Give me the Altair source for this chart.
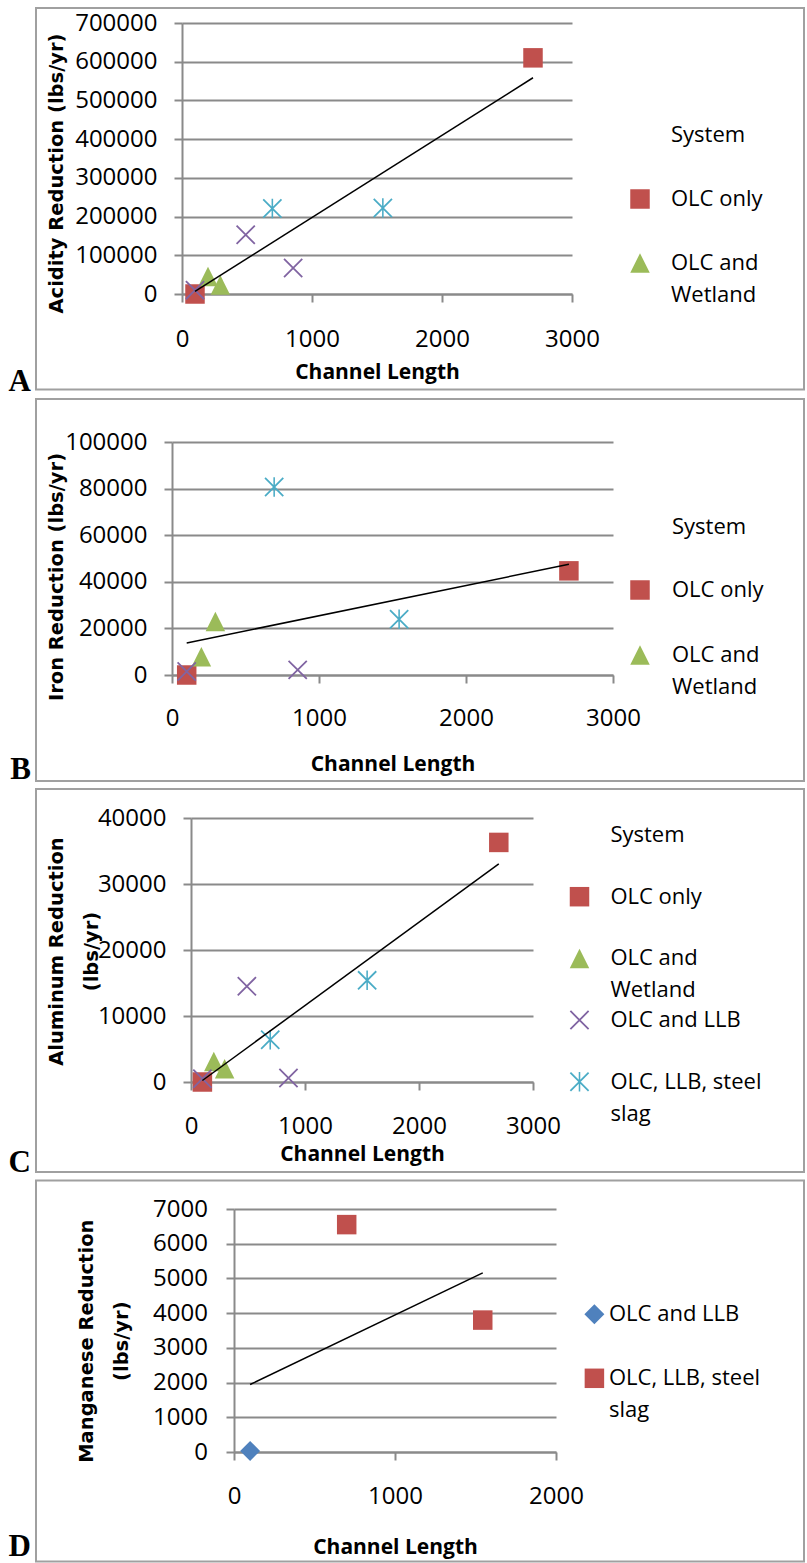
import altair as alt
import pandas as pd

# ---------------- data ----------------
SYSTEMS = ["OLC only", "OLC and Wetland", "OLC and LLB", "OLC, LLB, steel slag"]
SYSTEM_COLORS = ["#C0504D", "#9BBB59", "#8064A2", "#4BACC6"]
D_SYSTEMS = ["OLC and LLB", "OLC, LLB, steel slag"]
D_COLORS = ["#4F81BD", "#C0504D"]

# A: Acidity
acid_olc_x = [100, 2700]
acid_olc_y = [0, 610000]
acid_wet_x = [200, 295]
acid_wet_y = [45000, 23000]
acid_llb_x = [100, 490, 855]
acid_llb_y = [10000, 153000, 67000]
acid_slag_x = [695, 1545]
acid_slag_y = [221000, 222000]

# B: Iron
iron_olc_x = [100, 2700]
iron_olc_y = [0, 44700]
iron_wet_x = [200, 295]
iron_wet_y = [7800, 23000]
iron_llb_x = [100, 855]
iron_llb_y = [1500, 2200]
iron_slag_x = [695, 1545]
iron_slag_y = [80700, 23900]

# C: Aluminum
alum_olc_x = [100, 2700]
alum_olc_y = [0, 36300]
alum_wet_x = [200, 295]
alum_wet_y = [3100, 2000]
alum_llb_x = [100, 490, 855]
alum_llb_y = [500, 14500, 600]
alum_slag_x = [695, 1545]
alum_slag_y = [6400, 15400]

# D: Manganese
mang_llb_x = [100]
mang_llb_y = [30]
mang_slag_x = [700, 1545]
mang_slag_y = [6550, 3800]

X_TICKS_3000 = [0, 1000, 2000, 3000]
X_TICKS_2000 = [0, 1000, 2000]
ACID_TICKS = [0, 100000, 200000, 300000, 400000, 500000, 600000, 700000]
IRON_TICKS = [0, 20000, 40000, 60000, 80000, 100000]
ALUM_TICKS = [0, 10000, 20000, 30000, 40000]
MANG_TICKS = [0, 1000, 2000, 3000, 4000, 5000, 6000, 7000]

PANEL_LETTERS = ["A", "B", "C", "D"]
X_TITLE = "Channel Length"
LEGEND_TITLE = "System"
Y_TITLES = [
    "Acidity Reduction (lbs/yr)",
    "Iron Reduction (lbs/yr)",
    ["Aluminum Reduction", "(lbs/yr)"],
    ["Manganese Reduction", "(lbs/yr)"],
]


def frame(names, xs_list, ys_list):
    rows = []
    for name, xs, ys in zip(names, xs_list, ys_list):
        for x, y in zip(xs, ys):
            rows.append({"System": name, "length": x, "value": y})
    return pd.DataFrame(rows)


df_a = frame(SYSTEMS, [acid_olc_x, acid_wet_x, acid_llb_x, acid_slag_x],
             [acid_olc_y, acid_wet_y, acid_llb_y, acid_slag_y])
df_b = frame(SYSTEMS, [iron_olc_x, iron_wet_x, iron_llb_x, iron_slag_x],
             [iron_olc_y, iron_wet_y, iron_llb_y, iron_slag_y])
df_c = frame(SYSTEMS, [alum_olc_x, alum_wet_x, alum_llb_x, alum_slag_x],
             [alum_olc_y, alum_wet_y, alum_llb_y, alum_slag_y])
df_d = frame(D_SYSTEMS, [mang_llb_x, mang_slag_x], [mang_llb_y, mang_slag_y])

# ---------------- styles ----------------
GRID = "#8a8a8a"
BORDER = "#a0a0a0"
FONT = "Open Sans"
TICK_FS = 24
TRIANGLE = "M0,-1L1,1L-1,1Z"
XMARK = "M-1,-0.87L-0.87,-1L1,0.87L0.87,1Z M0.87,-1L1,-0.87L-0.87,1L-1,0.87Z"
STAR = XMARK + " M-0.08,-1L0.08,-1L0.08,1L-0.08,1Z"
SHAPES4 = ["square", TRIANGLE, XMARK, STAR]
SIZES4 = [380, 380, 324, 400]
SHAPES_D = ["diamond", "square"]
SIZES_D = [400, 380]

LABEL_EXPR = ("datum.label == 'OLC and Wetland' ? ['OLC and', 'Wetland'] : "
              "datum.label == 'OLC, LLB, steel slag' ? ['OLC, LLB, steel', 'slag'] : "
              "[datum.label, '']")

LEGEND_COMMON = dict(
    orient="none", title=None, labelFont=FONT, labelFontSize=22, labelColor="black",
    labelExpr=LABEL_EXPR, labelLimit=400, symbolSize=324, symbolOffset=0,
    symbolStrokeWidth=0, padding=0,
)

one = pd.DataFrame({"k": [0]})


def panel(df, domain, colors, shapes, sizes, g, legend_kw):
    px, py, w, h = g["px"], g["py"], g["w"], g["h"]
    xs = alt.Scale(domain=g["xdom"], nice=False, zero=True)
    ys = alt.Scale(domain=g["ydom"], nice=False, zero=True)
    legend = alt.Legend(**LEGEND_COMMON, **legend_kw)

    region = alt.Chart(one).mark_rect(opacity=0).encode(
        x=alt.value(1 - px), x2=alt.value(807 - px),
        y=alt.value(g["rtop"] - py), y2=alt.value(g["rbot"] - py))
    border = alt.Chart(one).mark_rect(fillOpacity=0, stroke=BORDER, strokeWidth=2).encode(
        x=alt.value(36 - px), x2=alt.value(804 - px),
        y=alt.value(g["btop"] - py), y2=alt.value(g["bbot"] - py))
    letter = alt.Chart(one).mark_text(
        align="right", baseline="alphabetic", font="Liberation Serif",
        fontSize=31, fontWeight="bold", color="black").encode(
        x=alt.value(31 - px), y=alt.value(g["lbase"] - py), text=alt.value(g["letter"]))

    xaxis = alt.Axis(
        values=g["xticks"], format="d", labelFlush=False, labelOverlap=False, grid=False,
        tickSize=8, tickColor=GRID, tickWidth=2, domainColor=GRID, domainWidth=2,
        labelFont=FONT, labelFontSize=TICK_FS, labelColor="black", labelPadding=g["xlabpad"],
        title=X_TITLE, titleFont=FONT, titleFontSize=21, titleFontWeight="bold",
        titleColor="black", titleX=w / 2, titleY=g["xty"], titleBaseline="top",
        titleAlign="center")
    yaxis = alt.Axis(
        values=g["yticks"], format="d", labelFlush=False, labelOverlap=False, grid=True,
        gridColor=GRID, gridWidth=2, tickSize=8, tickColor=GRID, tickWidth=2,
        domainColor=GRID, domainWidth=2, labelFont=FONT, labelFontSize=TICK_FS,
        labelColor="black", labelPadding=g["ylabpad"], title=g["ytitle"],
        titleFont="DejaVu Sans", titleFontSize=19.5, titleFontWeight="bold",
        titleColor="black", titleAngle=270, titleX=g["ytx"], titleY=g["yty"],
        titleAlign="center", titleBaseline="middle", titleLineHeight=35)

    points = alt.Chart(df).mark_point(filled=True, opacity=1, strokeWidth=0).encode(
        x=alt.X("length:Q", scale=xs, axis=xaxis),
        y=alt.Y("value:Q", scale=ys, axis=yaxis),
        color=alt.Color("System:N", scale=alt.Scale(domain=domain, range=colors), legend=legend),
        shape=alt.Shape("System:N", scale=alt.Scale(domain=domain, range=shapes), legend=legend),
        size=alt.Size("System:N", scale=alt.Scale(domain=domain, range=sizes), legend=None),
    )
    trend = alt.Chart(df).transform_regression("length", "value").mark_line(
        color="black", strokeWidth=1.5).encode(
        x=alt.X("length:Q", scale=xs, axis=xaxis),
        y=alt.Y("value:Q", scale=ys, axis=yaxis))

    layers = [region, border, points, trend, letter]
    if g.get("ltitle"):
        tx, ty = g["ltitle"]
        layers.append(alt.Chart(one).mark_text(
            align="left", baseline="top", font=FONT, fontSize=22, color="black").encode(
            x=alt.value(tx - px), y=alt.value(ty - py), text=alt.value(LEGEND_TITLE)))

    return alt.layer(*layers).properties(width=w, height=h)


GEOM = [
    dict(px=182, py=23, w=390, h=271, xdom=[0, 3000], xticks=X_TICKS_3000,
         ydom=[0, 700000], yticks=ACID_TICKS, ytitle=Y_TITLES[0], ytx=-126, yty=150,
         xlabpad=25.4, xty=67, ylabpad=17, rtop=0, rbot=398, btop=8, bbot=389.5,
         lbase=391, letter=PANEL_LETTERS[0], ltitle=(671, 124.7)),
    dict(px=172, py=442, w=441, h=233, xdom=[0, 3000], xticks=X_TICKS_3000,
         ydom=[0, 100000], yticks=IRON_TICKS, ytitle=Y_TITLES[1], ytx=-116, yty=134.5,
         xlabpad=23.1, xty=78, ylabpad=17, rtop=398, rbot=787, btop=399, bbot=781,
         lbase=779, letter=PANEL_LETTERS[1], ltitle=(672, 517)),
    dict(px=191, py=818, w=342, h=264, xdom=[0, 3000], xticks=X_TICKS_3000,
         ydom=[0, 40000], yticks=ALUM_TICKS, ytitle=Y_TITLES[2], ytx=-134.3, yty=133,
         xlabpad=24.4, xty=61.7, ylabpad=17, rtop=787, rbot=1179, btop=789, bbot=1172,
         lbase=1172, letter=PANEL_LETTERS[2], ltitle=(610.4, 825.4)),
    dict(px=234, py=1209, w=322, h=243, xdom=[0, 2000], xticks=X_TICKS_2000,
         ydom=[0, 7000], yticks=MANG_TICKS, ytitle=Y_TITLES[3], ytx=-148, yty=131.7,
         xlabpad=24.4, xty=84, ylabpad=18.6, rtop=1179, rbot=1563, btop=1180.5,
         bbot=1561.5, lbase=1556, letter=PANEL_LETTERS[3]),
]

LEG = [
    dict(legendX=447, legendY=165, rowPadding=10, labelOffset=20, values=SYSTEMS[:2]),
    dict(legendX=457, legendY=137, rowPadding=11, labelOffset=21, values=SYSTEMS[:2]),
    dict(legendX=377.5, legendY=67.7, rowPadding=7.7, labelOffset=19.9),
    dict(legendX=349.4, legendY=94.3, rowPadding=10, labelOffset=3.6),
]

panels = [
    panel(df_a, SYSTEMS, SYSTEM_COLORS, SHAPES4, SIZES4, GEOM[0], LEG[0]),
    panel(df_b, SYSTEMS, SYSTEM_COLORS, SHAPES4, SIZES4, GEOM[1], LEG[1]),
    panel(df_c, SYSTEMS, SYSTEM_COLORS, SHAPES4, SIZES4, GEOM[2], LEG[2]),
    panel(df_d, D_SYSTEMS, D_COLORS, SHAPES_D, SIZES_D, GEOM[3], LEG[3]),
]


def spacer():
    return alt.Chart(one).mark_rect(opacity=0).encode(
        x=alt.value(0), x2=alt.value(1), y=alt.value(0), y2=alt.value(1)
    ).properties(width=1, height=1)


INDEP = dict(color="independent", shape="independent", size="independent",
             x="independent", y="independent")

rows = [
    alt.hconcat(spacer(), p, spacing=0)
    .resolve_scale(**INDEP)
    .resolve_legend(color="independent", shape="independent", size="independent")
    for p in panels
]

chart = alt.vconcat(*rows, spacing=0).resolve_scale(**INDEP).resolve_legend(
    color="independent", shape="independent", size="independent"
).properties(
    padding=0, background="white"
).configure(
    style={"guide-label": {"lineHeight": 32}},
    view={"stroke": None},
)

chart.save("out.html", embed_options={"renderer": "svg", "actions": False})
